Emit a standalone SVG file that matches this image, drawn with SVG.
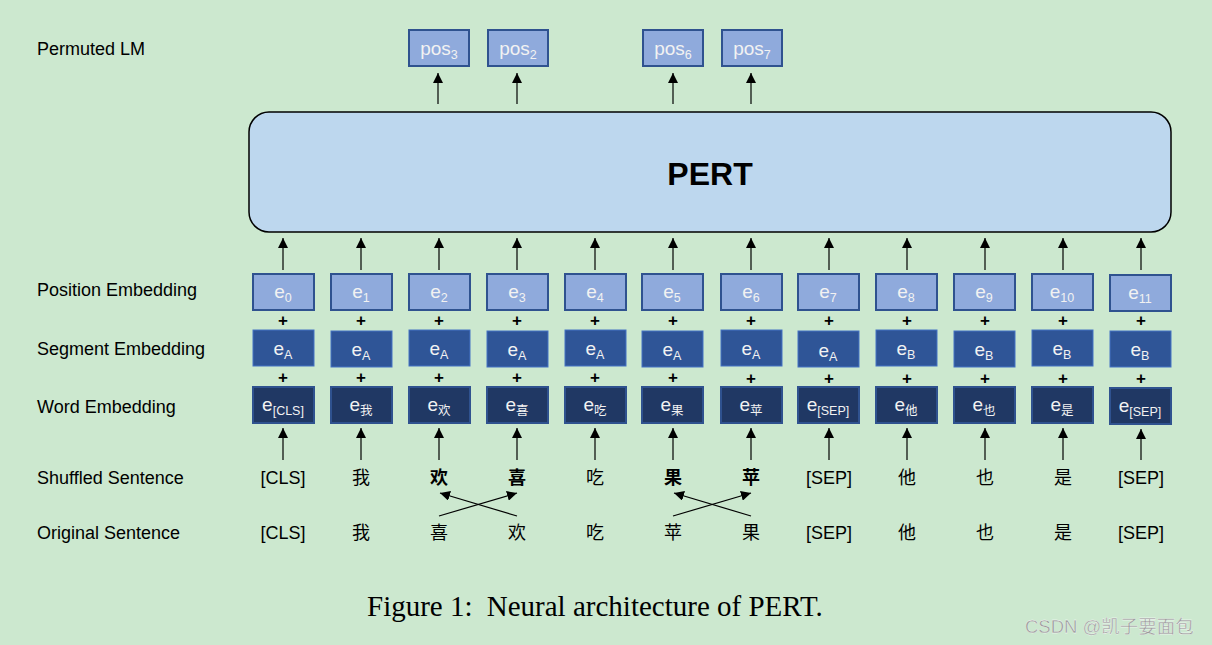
<svg xmlns="http://www.w3.org/2000/svg" width="1212" height="645" viewBox="0 0 1212 645">
<defs>
<marker id="ah" viewBox="0 0 10 10" refX="10" refY="5" markerWidth="10" markerHeight="10" markerUnits="userSpaceOnUse" orient="auto">
<path d="M0,0 L10,5 L0,10 z" fill="#000"/>
</marker>
<style>
.lbl{font-family:"Liberation Sans",Arial,sans-serif;font-size:18px;fill:#000}
.tok{font-family:"Liberation Sans","Noto Sans CJK SC",sans-serif;font-size:18px;fill:#000;text-anchor:middle}
.b{font-weight:bold}
.pos{fill:#8faadc;stroke:#2f528f;stroke-width:2}
.seg{fill:#2f5597;stroke:#4472c4;stroke-width:1}
.wrd{fill:#203864;stroke:#2f528f;stroke-width:2}
.bt{font-family:"Liberation Sans","Noto Sans CJK SC",sans-serif;font-size:19px;fill:#f2f2f2;text-anchor:middle}
.sub{font-size:12.5px}
.plus{font-family:"Liberation Sans",Arial,sans-serif;font-size:17px;font-weight:bold;fill:#000;text-anchor:middle}
.arr{stroke:#000;stroke-width:1.2;fill:none;marker-end:url(#ah)}
</style>
</defs>
<rect width="1212" height="645" fill="#cce8cf"/>

<g id="row-labels">
<text class="lbl" x="37" y="55">Permuted LM</text>
<text class="lbl" x="37" y="296">Position Embedding</text>
<text class="lbl" x="37" y="355">Segment Embedding</text>
<text class="lbl" x="37" y="413">Word Embedding</text>
<text class="lbl" x="37" y="484">Shuffled Sentence</text>
<text class="lbl" x="37" y="539">Original Sentence</text>
</g>

<g id="pert">
<rect x="249" y="112" width="922" height="120" rx="20" fill="#bdd7ee" stroke="#000" stroke-width="1.5"/>
<text x="710" y="185" font-family="'Liberation Sans',Arial,sans-serif" font-size="32" font-weight="bold" text-anchor="middle">PERT</text>
</g>

<g id="pos-outputs">
<g id="pos3"><rect class="pos" x="409" y="30" width="60" height="36"/><text class="bt" x="439" y="55">pos<tspan class="sub" dy="4">3</tspan></text></g>
<g id="pos2"><rect class="pos" x="488" y="30" width="60" height="36"/><text class="bt" x="518" y="55">pos<tspan class="sub" dy="4">2</tspan></text></g>
<g id="pos6"><rect class="pos" x="643" y="30" width="60" height="36"/><text class="bt" x="673" y="55">pos<tspan class="sub" dy="4">6</tspan></text></g>
<g id="pos7"><rect class="pos" x="722" y="30" width="60" height="36"/><text class="bt" x="752" y="55">pos<tspan class="sub" dy="4">7</tspan></text></g>
</g>

<g id="position-embeddings">
<g id="e0"><rect class="pos" x="253" y="274" width="61" height="36"/><text class="bt" x="283" y="298">e<tspan class="sub" dy="4">0</tspan></text></g>
<g id="e1"><rect class="pos" x="331" y="274" width="61" height="36"/><text class="bt" x="361" y="298">e<tspan class="sub" dy="4">1</tspan></text></g>
<g id="e2"><rect class="pos" x="409" y="274" width="61" height="36"/><text class="bt" x="439" y="298">e<tspan class="sub" dy="4">2</tspan></text></g>
<g id="e3"><rect class="pos" x="487" y="274" width="61" height="36"/><text class="bt" x="517" y="298">e<tspan class="sub" dy="4">3</tspan></text></g>
<g id="e4"><rect class="pos" x="565" y="274" width="61" height="36"/><text class="bt" x="595" y="298">e<tspan class="sub" dy="4">4</tspan></text></g>
<g id="e5"><rect class="pos" x="642" y="274" width="61" height="36"/><text class="bt" x="672" y="298">e<tspan class="sub" dy="4">5</tspan></text></g>
<g id="e6"><rect class="pos" x="721" y="274" width="61" height="36"/><text class="bt" x="751" y="298">e<tspan class="sub" dy="4">6</tspan></text></g>
<g id="e7"><rect class="pos" x="798" y="274" width="61" height="36"/><text class="bt" x="828" y="298">e<tspan class="sub" dy="4">7</tspan></text></g>
<g id="e8"><rect class="pos" x="876" y="274" width="61" height="36"/><text class="bt" x="906" y="298">e<tspan class="sub" dy="4">8</tspan></text></g>
<g id="e9"><rect class="pos" x="954" y="274" width="61" height="36"/><text class="bt" x="984" y="298">e<tspan class="sub" dy="4">9</tspan></text></g>
<g id="e10"><rect class="pos" x="1032" y="274" width="61" height="36"/><text class="bt" x="1062" y="298">e<tspan class="sub" dy="4">10</tspan></text></g>
<g id="e11"><rect class="pos" x="1110" y="275" width="61" height="36"/><text class="bt" x="1140" y="299">e<tspan class="sub" dy="4">11</tspan></text></g>
</g>

<g id="plus-signs">
<text class="plus" x="283" y="326">+</text><text class="plus" x="361" y="326">+</text><text class="plus" x="439" y="326">+</text><text class="plus" x="517" y="326">+</text><text class="plus" x="595" y="326">+</text><text class="plus" x="673" y="326">+</text><text class="plus" x="751" y="326">+</text><text class="plus" x="829" y="326">+</text><text class="plus" x="907" y="326">+</text><text class="plus" x="985" y="326">+</text><text class="plus" x="1063" y="326">+</text><text class="plus" x="1141" y="326">+</text>
<text class="plus" x="283" y="383">+</text><text class="plus" x="361" y="383">+</text><text class="plus" x="439" y="383">+</text><text class="plus" x="517" y="383">+</text><text class="plus" x="595" y="383">+</text><text class="plus" x="673" y="383">+</text><text class="plus" x="751" y="384">+</text><text class="plus" x="829" y="384">+</text><text class="plus" x="907" y="384">+</text><text class="plus" x="985" y="384">+</text><text class="plus" x="1063" y="384">+</text><text class="plus" x="1141" y="384">+</text>
</g>

<g id="segment-embeddings">
<g id="sA0"><rect class="seg" x="253" y="330" width="61" height="36"/><text class="bt" x="283" y="355">e<tspan class="sub" dy="4">A</tspan></text></g>
<g id="sA1"><rect class="seg" x="331" y="331" width="61" height="36"/><text class="bt" x="361" y="356">e<tspan class="sub" dy="4">A</tspan></text></g>
<g id="sA2"><rect class="seg" x="409" y="330" width="61" height="36"/><text class="bt" x="439" y="355">e<tspan class="sub" dy="4">A</tspan></text></g>
<g id="sA3"><rect class="seg" x="487" y="331" width="61" height="36"/><text class="bt" x="517" y="356">e<tspan class="sub" dy="4">A</tspan></text></g>
<g id="sA4"><rect class="seg" x="565" y="330" width="61" height="36"/><text class="bt" x="595" y="355">e<tspan class="sub" dy="4">A</tspan></text></g>
<g id="sA5"><rect class="seg" x="642" y="331" width="61" height="36"/><text class="bt" x="672" y="356">e<tspan class="sub" dy="4">A</tspan></text></g>
<g id="sA6"><rect class="seg" x="721" y="330" width="61" height="36"/><text class="bt" x="751" y="355">e<tspan class="sub" dy="4">A</tspan></text></g>
<g id="sA7"><rect class="seg" x="798" y="331" width="61" height="36"/><text class="bt" x="828" y="357">e<tspan class="sub" dy="4">A</tspan></text></g>
<g id="sB8"><rect class="seg" x="876" y="330" width="61" height="36"/><text class="bt" x="906" y="355">e<tspan class="sub" dy="4">B</tspan></text></g>
<g id="sB9"><rect class="seg" x="954" y="331" width="61" height="36"/><text class="bt" x="984" y="356">e<tspan class="sub" dy="4">B</tspan></text></g>
<g id="sB10"><rect class="seg" x="1032" y="330" width="61" height="36"/><text class="bt" x="1062" y="355">e<tspan class="sub" dy="4">B</tspan></text></g>
<g id="sB11"><rect class="seg" x="1110" y="331" width="61" height="36"/><text class="bt" x="1140" y="356">e<tspan class="sub" dy="4">B</tspan></text></g>
</g>

<g id="word-embeddings">
<g id="w0"><rect class="wrd" x="253" y="387" width="61" height="36"/><text class="bt" x="283" y="411">e<tspan class="sub" dy="4">[CLS]</tspan></text></g>
<g id="w1"><rect class="wrd" x="331" y="387" width="61" height="36"/><text class="bt" x="361" y="411">e<tspan class="sub" dy="4">我</tspan></text></g>
<g id="w2"><rect class="wrd" x="409" y="387" width="61" height="36"/><text class="bt" x="439" y="411">e<tspan class="sub" dy="4">欢</tspan></text></g>
<g id="w3"><rect class="wrd" x="487" y="387" width="61" height="36"/><text class="bt" x="517" y="411">e<tspan class="sub" dy="4">喜</tspan></text></g>
<g id="w4"><rect class="wrd" x="565" y="387" width="61" height="36"/><text class="bt" x="595" y="411">e<tspan class="sub" dy="4">吃</tspan></text></g>
<g id="w5"><rect class="wrd" x="642" y="387" width="61" height="36"/><text class="bt" x="672" y="411">e<tspan class="sub" dy="4">果</tspan></text></g>
<g id="w6"><rect class="wrd" x="721" y="387" width="61" height="36"/><text class="bt" x="751" y="411">e<tspan class="sub" dy="4">苹</tspan></text></g>
<g id="w7"><rect class="wrd" x="798" y="387" width="61" height="36"/><text class="bt" x="828" y="411">e<tspan class="sub" dy="4">[SEP]</tspan></text></g>
<g id="w8"><rect class="wrd" x="876" y="387" width="61" height="36"/><text class="bt" x="906" y="411">e<tspan class="sub" dy="4">他</tspan></text></g>
<g id="w9"><rect class="wrd" x="954" y="387" width="61" height="36"/><text class="bt" x="984" y="411">e<tspan class="sub" dy="4">也</tspan></text></g>
<g id="w10"><rect class="wrd" x="1032" y="387" width="61" height="36"/><text class="bt" x="1062" y="411">e<tspan class="sub" dy="4">是</tspan></text></g>
<g id="w11"><rect class="wrd" x="1110" y="388" width="61" height="36"/><text class="bt" x="1140" y="412">e<tspan class="sub" dy="4">[SEP]</tspan></text></g>
</g>

<g id="shuffled-sentence">
<text class="tok" x="283" y="484">[CLS]</text>
<text class="tok" x="361" y="484">我</text>
<text class="tok b" x="439" y="484">欢</text>
<text class="tok b" x="517" y="484">喜</text>
<text class="tok" x="595" y="484">吃</text>
<text class="tok b" x="673" y="484">果</text>
<text class="tok b" x="751" y="484">苹</text>
<text class="tok" x="829" y="484">[SEP]</text>
<text class="tok" x="907" y="484">他</text>
<text class="tok" x="985" y="484">也</text>
<text class="tok" x="1063" y="484">是</text>
<text class="tok" x="1141" y="484">[SEP]</text>
</g>

<g id="original-sentence">
<text class="tok" x="283" y="539">[CLS]</text>
<text class="tok" x="361" y="539">我</text>
<text class="tok" x="439" y="539">喜</text>
<text class="tok" x="517" y="539">欢</text>
<text class="tok" x="595" y="539">吃</text>
<text class="tok" x="673" y="539">苹</text>
<text class="tok" x="751" y="539">果</text>
<text class="tok" x="829" y="539">[SEP]</text>
<text class="tok" x="907" y="539">他</text>
<text class="tok" x="985" y="539">也</text>
<text class="tok" x="1063" y="539">是</text>
<text class="tok" x="1141" y="539">[SEP]</text>
</g>

<g id="connectors">
<line class="arr" x1="438" y1="104" x2="438" y2="73"/>
<line class="arr" x1="517" y1="104" x2="517" y2="73"/>
<line class="arr" x1="673" y1="104" x2="673" y2="73"/>
<line class="arr" x1="751" y1="104" x2="751" y2="73"/>
<line class="arr" x1="283" y1="270" x2="283" y2="238"/>
<line class="arr" x1="361" y1="270" x2="361" y2="238"/>
<line class="arr" x1="439" y1="270" x2="439" y2="238"/>
<line class="arr" x1="517" y1="270" x2="517" y2="238"/>
<line class="arr" x1="595" y1="270" x2="595" y2="238"/>
<line class="arr" x1="673" y1="270" x2="673" y2="238"/>
<line class="arr" x1="751" y1="270" x2="751" y2="238"/>
<line class="arr" x1="829" y1="270" x2="829" y2="238"/>
<line class="arr" x1="907" y1="270" x2="907" y2="238"/>
<line class="arr" x1="985" y1="270" x2="985" y2="238"/>
<line class="arr" x1="1063" y1="270" x2="1063" y2="238"/>
<line class="arr" x1="1141" y1="270" x2="1141" y2="238"/>
<line class="arr" x1="283" y1="460" x2="283" y2="428"/>
<line class="arr" x1="361" y1="460" x2="361" y2="428"/>
<line class="arr" x1="439" y1="460" x2="439" y2="428"/>
<line class="arr" x1="517" y1="460" x2="517" y2="428"/>
<line class="arr" x1="595" y1="460" x2="595" y2="428"/>
<line class="arr" x1="673" y1="460" x2="673" y2="428"/>
<line class="arr" x1="751" y1="460" x2="751" y2="428"/>
<line class="arr" x1="829" y1="460" x2="829" y2="428"/>
<line class="arr" x1="907" y1="460" x2="907" y2="428"/>
<line class="arr" x1="985" y1="460" x2="985" y2="428"/>
<line class="arr" x1="1063" y1="460" x2="1063" y2="428"/>
<line class="arr" x1="1141" y1="460" x2="1141" y2="429"/>
<line class="arr" x1="439" y1="516" x2="517" y2="493"/>
<line class="arr" x1="517" y1="516" x2="440" y2="493"/>
<line class="arr" x1="673" y1="516" x2="751" y2="493"/>
<line class="arr" x1="751" y1="516" x2="674" y2="493"/>
</g>

<g id="caption">
<text x="367" y="616" font-family="'Liberation Serif','Times New Roman',serif" font-size="29">Figure 1:<tspan dx="7"> Neural architecture of PERT.</tspan></text>
</g>
<g id="watermark">
<text x="1025" y="633" font-family="'Liberation Sans','Noto Sans CJK SC',sans-serif" font-size="18.5" fill="#9a9a9a" stroke="#ffffff" stroke-width="0.3">CSDN @凯子要面包</text>
</g>
</svg>
